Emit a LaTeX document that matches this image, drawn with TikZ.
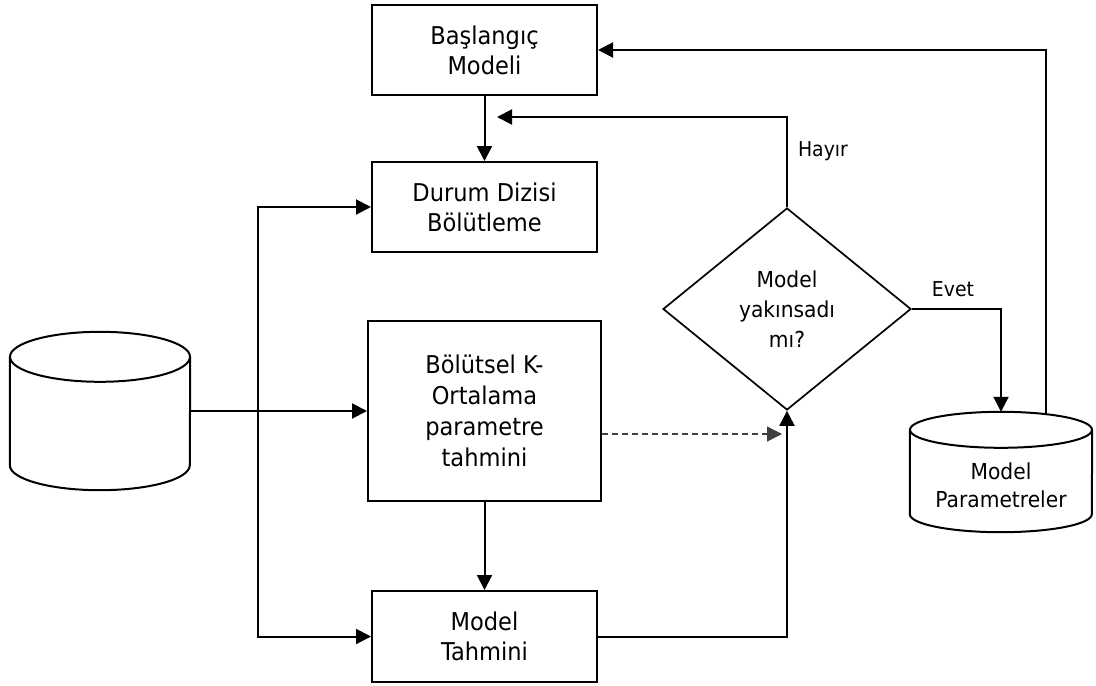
\documentclass[tikz,border=0pt]{standalone}
\usepackage{fontspec}
\setmainfont{DejaVu Sans}[FakeStretch=0.92]
\usetikzlibrary{shapes.geometric,arrows.meta,calc}
\begin{document}
\begin{tikzpicture}[x=1pt,y=-1pt,
  box/.style={draw,line width=2pt,minimum width=225pt,minimum height=90pt,align=center,
    font=\fontsize{24.5}{30}\selectfont,inner sep=0pt},
  arr/.style={line width=2pt,-{Triangle[length=15pt,width=15pt]}},
  ln/.style={line width=2pt},
  dsh/.style={line width=1.4pt,draw=black!75,dash pattern=on 6pt off 4pt,-{Triangle[length=15pt,width=15pt]}},
  lbl/.style={font=\fontsize{20.5}{24}\selectfont,anchor=base,inner sep=0pt}]
\useasboundingbox (0,0) rectangle (1096,686);

% boxes
\node[box] (start) at (484.5,50) {Başlangıç\\Modeli};
\node[box] (durum) at (484.5,207) {Durum Dizisi\\Bölütleme};
\node[box,minimum width=233pt,minimum height=180pt,font=\fontsize{24.5}{31}\selectfont] (bol) at (484.5,411) {Bölütsel K-\\Ortalama\\parametre\\tahmini};
\node[box,minimum height=91pt] (tahmin) at (484.5,636.5) {Model\\Tahmini};
\node[diamond,draw,line width=1.7pt,minimum width=248pt,minimum height=202pt,inner sep=0pt,align=center,
  font=\fontsize{22}{30}\selectfont] (dia) at (787,309) {Model\\yakınsadı\\mı?};

% left database cylinder
\node[minimum width=180pt,minimum height=158pt,inner sep=0pt] (db) at (100,411) {};
\draw[ln] ($(db.north)+(0,25)$) ellipse [x radius=90pt,y radius=25pt];
\draw[ln] ($(db.north west)+(0,25)$) -- ($(db.south west)+(0,-25)$)
  arc[start angle=180,end angle=360,x radius=90pt,y radius=25pt] -- ($(db.north east)+(0,25)$);

% model parameters cylinder
\node[minimum width=182pt,minimum height=120pt,inner sep=0pt] (mp) at (1001,472) {};
\draw[ln] ($(mp.north)+(0,18)$) ellipse [x radius=91pt,y radius=18pt];
\draw[ln] ($(mp.north west)+(0,18)$) -- ($(mp.south west)+(0,-18)$)
  arc[start angle=180,end angle=360,x radius=91pt,y radius=18pt] -- ($(mp.north east)+(0,18)$);
\node[font=\fontsize{22}{28}\selectfont,align=center,inner sep=0pt] (mptext) at (1001,485) {Model\\Parametreler};

% coordinates
\coordinate (hayirEnd) at (497,117);
\coordinate (split) at (258,411);
\coordinate (dashEnd) at (782,434);
\coordinate (mpTop) at (1046,414);

% connectors
\draw[arr] (start) -- (durum);
\draw[arr] (dia.north) |- (hayirEnd);
\draw[arr] (mpTop) |- (start.east);
\draw[arr] (db.east) -- (bol.west);
\draw[arr] (split) |- (durum.west);
\draw[arr] (split) |- (tahmin.west);
\draw[arr] (bol) -- (tahmin);
\draw[dsh] (bol.east |- dashEnd) -- (dashEnd);
\draw[arr] (tahmin.east) -| (dia.south);
\draw[arr] (dia.east) -| (mp.north);

% labels
\node[lbl] (hayir) at (823,156) {Hayır};
\node[lbl] (evet) at (953,296) {Evet};
\end{tikzpicture}
\end{document}
